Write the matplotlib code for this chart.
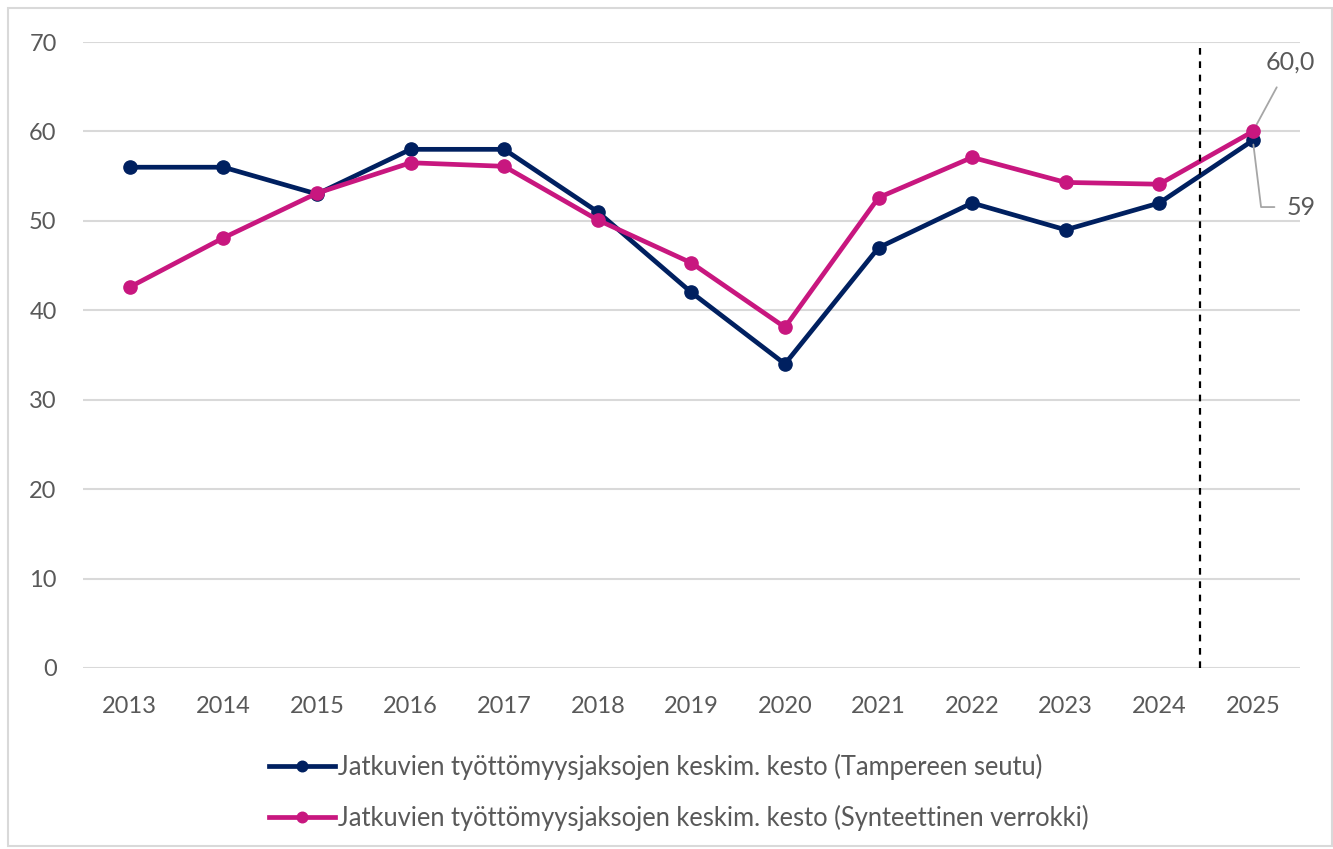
import numpy as np
import matplotlib.pyplot as plt
from matplotlib.patches import Rectangle

years = [2013, 2014, 2015, 2016, 2017, 2018, 2019, 2020, 2021, 2022, 2023, 2024, 2025]
tampere = [56, 56, 53, 58, 58, 51, 42, 34, 47, 52, 49, 52, 59]
verrokki = [42.6, 48.1, 53.1, 56.5, 56.1, 50.1, 45.3, 38.1, 52.6, 57.1, 54.3, 54.1, 60.0]
labels = ["Jatkuvien työttömyysjaksojen keskim. kesto (Tampereen seutu)",
          "Jatkuvien työttömyysjaksojen keskim. kesto (Synteettinen verrokki)"]

navy = "#002060"
pink = "#C8177F"
grey = "#595959"

plt.rcParams["font.family"] = ["Lato", "DejaVu Sans"]

fig = plt.figure(figsize=(13.33, 8.49), dpi=100)
ax = fig.add_axes([0.0623, 0.2132, 0.9127, 0.7373])

x = np.arange(len(years))
ax.plot(x, tampere, color=navy, lw=3.4, marker="o", ms=9.5, label=labels[0], zorder=3)
ax.plot(x, verrokki, color=pink, lw=3.4, marker="o", ms=9.5, label=labels[1], zorder=4)

# forecast divider
ax.axvline(11.44, color="black", ls=(0, (3, 3)), lw=1.6, clip_on=False, zorder=5)

ax.set_xlim(-0.5, len(years) - 0.5)
ax.set_ylim(0, 70)
ax.set_yticks(range(0, 71, 10))
ax.set_xticks(x)
ax.set_xticklabels(years)
ax.yaxis.grid(True, color="#D9D9D9", lw=1.5)
ax.set_axisbelow(True)
for s in ax.spines.values():
    s.set_visible(False)
ax.tick_params(length=0, labelsize=17, labelcolor=grey)
ax.tick_params(axis="y", pad=19)
ax.tick_params(axis="x", pad=20)

# value labels for the last year
ax.annotate("60,0", xy=(x[-1], verrokki[-1]), xytext=(27, 50), textcoords="offset points",
            fontsize=18, color=grey, ha="center", va="center",
            arrowprops=dict(arrowstyle="-", color="#A6A6A6", lw=1.3, shrinkA=9, shrinkB=3))
ax.annotate("59", xy=(x[-1], tampere[-1]), xytext=(35, -48), textcoords="offset points",
            fontsize=18, color=grey, ha="center", va="center",
            arrowprops=dict(arrowstyle="-", color="#A6A6A6", lw=1.3, shrinkA=7, shrinkB=3,
                            connectionstyle="angle,angleA=0,angleB=97,rad=0"))

fig.legend(loc="upper center", bbox_to_anchor=(0.509, 0.1245), ncol=1, frameon=False,
           fontsize=18.4, labelcolor=grey, handlelength=2.6, handletextpad=0.1,
           labelspacing=1.0, borderaxespad=0, markerscale=0.8)

fig.patches.append(Rectangle((0.006, 0.003), 0.993, 0.987, transform=fig.transFigure,
                             fill=False, edgecolor="#D9D9D9", lw=1.5))

fig.savefig("out.png", dpi=100)
